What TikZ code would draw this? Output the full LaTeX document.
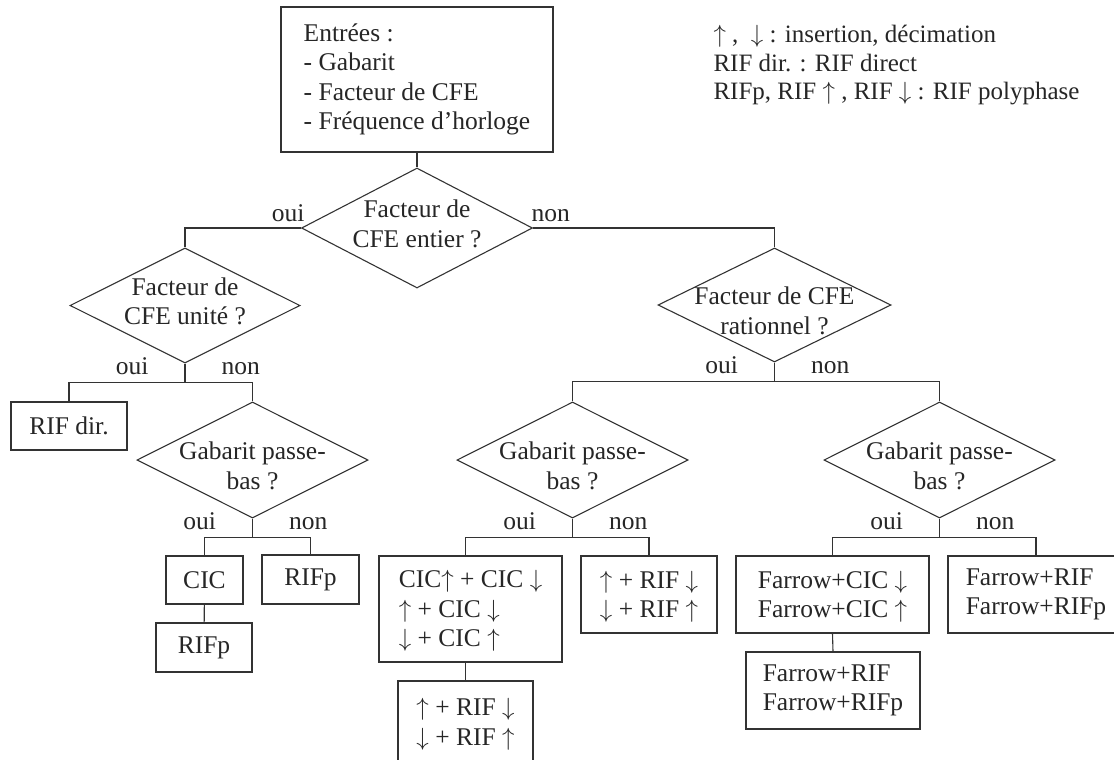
\documentclass[tikz,border=0pt]{standalone}
\usepackage{fontspec}
\setmainfont{Liberation Serif}
\usepackage{xcolor}
\usetikzlibrary{shapes.geometric, calc}

\newcommand\dtext[2][-5pt]{\smash{\makebox[0pt]{\raisebox{#1}{\begin{tabular}{@{}c@{}}#2\end{tabular}}}}}
\newcommand\up{$\smash{\uparrow}$}
\newcommand\dn{$\smash{\downarrow}$}

\begin{document}
\begin{tikzpicture}[x=1pt, y=-1pt, line width=1.1pt, draw=black!80, text=black!85,
    every node/.style={font=\fontsize{25.5}{29.5}\selectfont},
    dec/.style={diamond, draw, inner sep=0pt, minimum width=231pt, minimum height=116pt},
    box/.style={rectangle, draw, inner sep=0pt, align=left},
    lbl/.style={inner sep=0pt},
    fork/.style={to path={(\tikztostart) -- ++(0,19) -| (\tikztotarget)}}]
    \useasboundingbox (0,0) rectangle (1114,760);
    \node[box, minimum width=272pt, minimum height=145pt] (top) at (417,79.5)
        {Entrées :\\- Gabarit\\- Facteur de CFE\\- Fréquence d’horloge};
    \node[dec, minimum height=120pt] (d1) at (417,228) {\dtext{Facteur de\\CFE entier ?}};
    \node[dec, minimum width=230pt, minimum height=115pt] (d2) at (185,305.5) {\dtext{Facteur de\\CFE unité ?}};
    \node[dec, minimum width=233pt, minimum height=114pt] (d3) at (774.5,305) {\dtext[-15pt]{Facteur de CFE\\rationnel ?}};
    \node[dec] (d4) at (252.5,460) {\dtext[-15pt]{Gabarit passe-\\bas ?}};
    \node[dec] (d5) at (572.5,460) {\dtext[-15pt]{Gabarit passe-\\bas ?}};
    \node[dec] (d6) at (939.5,460) {\dtext[-15pt]{Gabarit passe-\\bas ?}};
    \node[box, minimum width=116pt, minimum height=48pt] (rifdir) at (69,426) {RIF dir.};
    \node[box, minimum width=77pt, minimum height=48pt] (cic) at (204.5,580) {CIC};
    \node[box, minimum width=97pt, minimum height=49pt] (rifpa) at (310.5,579.5) {RIFp};
    \node[box, minimum width=96pt, minimum height=49pt] (rifpb) at (204,647.5) {RIFp};
    \node[box, minimum width=183pt, minimum height=106pt] (cicud) at (470.5,609)
        {CIC\up{} + CIC \dn\\\up{} + CIC \dn\\\dn{} + CIC \up};
    \node[box, minimum width=136pt, minimum height=77pt] (rifuda) at (649,594.5) {\up{} + RIF \dn\\\dn{} + RIF \up};
    \node[box, minimum width=135pt, minimum height=82pt] (rifudb) at (465.5,722) {\up{} + RIF \dn\\\dn{} + RIF \up};
    \node[box, minimum width=193pt, minimum height=77pt] (farcic) at (832.5,594.5) {Farrow+CIC \dn\\Farrow+CIC \up};
    \node[box, minimum width=176pt, minimum height=77pt] (farrifa) at (1036,594.5) {Farrow+RIF\\Farrow+RIFp};
    \node[box, minimum width=174pt, minimum height=77pt] (farrifb) at (833,690.5) {Farrow+RIF\\Farrow+RIFp};
    \node[lbl, anchor=north west, align=left, font=\fontsize{25}{28.5}\selectfont] (legend) at (713,25)
        {\up{} ,~ \dn{} : insertion, décimation\\RIF dir. : RIF direct\\RIFp, RIF \up{} , RIF \dn{} : RIF polyphase};
    \draw (top) -- (d1);
    \draw (d1.west) -| (d2.north);
    \draw (d1.east) -| (d3.north);
    \draw (d2.south) edge[fork] (rifdir.north) edge[fork] (d4.north);
    \draw (d4.south) edge[fork] (cic.north) edge[fork] (rifpa.north);
    \draw (cic) -- (rifpb);
    \draw (d3.south) edge[fork] (d5.north) edge[fork] (d6.north);
    \draw (d5.south) edge[fork] ([xshift=-5pt]cicud.north) edge[fork] (rifuda.north);
    \draw (rifudb.north) -- (rifudb.north |- cicud.south);
    \draw (d6.south) edge[fork] (farcic.north) edge[fork] (farrifa.north);
    \draw (farcic.south) -- (farrifb.north);
    \node[lbl, anchor=base east] (o1) at ($(d1.west)+(4,-7)$) {oui};
    \node[lbl, anchor=base west] (n1) at ($(d1.east)+(-2,-7)$) {non};
    \foreach \d in {d2,d3,d4,d5,d6} {
        \node[lbl, anchor=base east] (o\d) at ($(\d.south)+(-36,11)$) {oui};
        \node[lbl, anchor=base west] (n\d) at ($(\d.south)+(36,11)$) {non};
    }
\end{tikzpicture}
\end{document}
